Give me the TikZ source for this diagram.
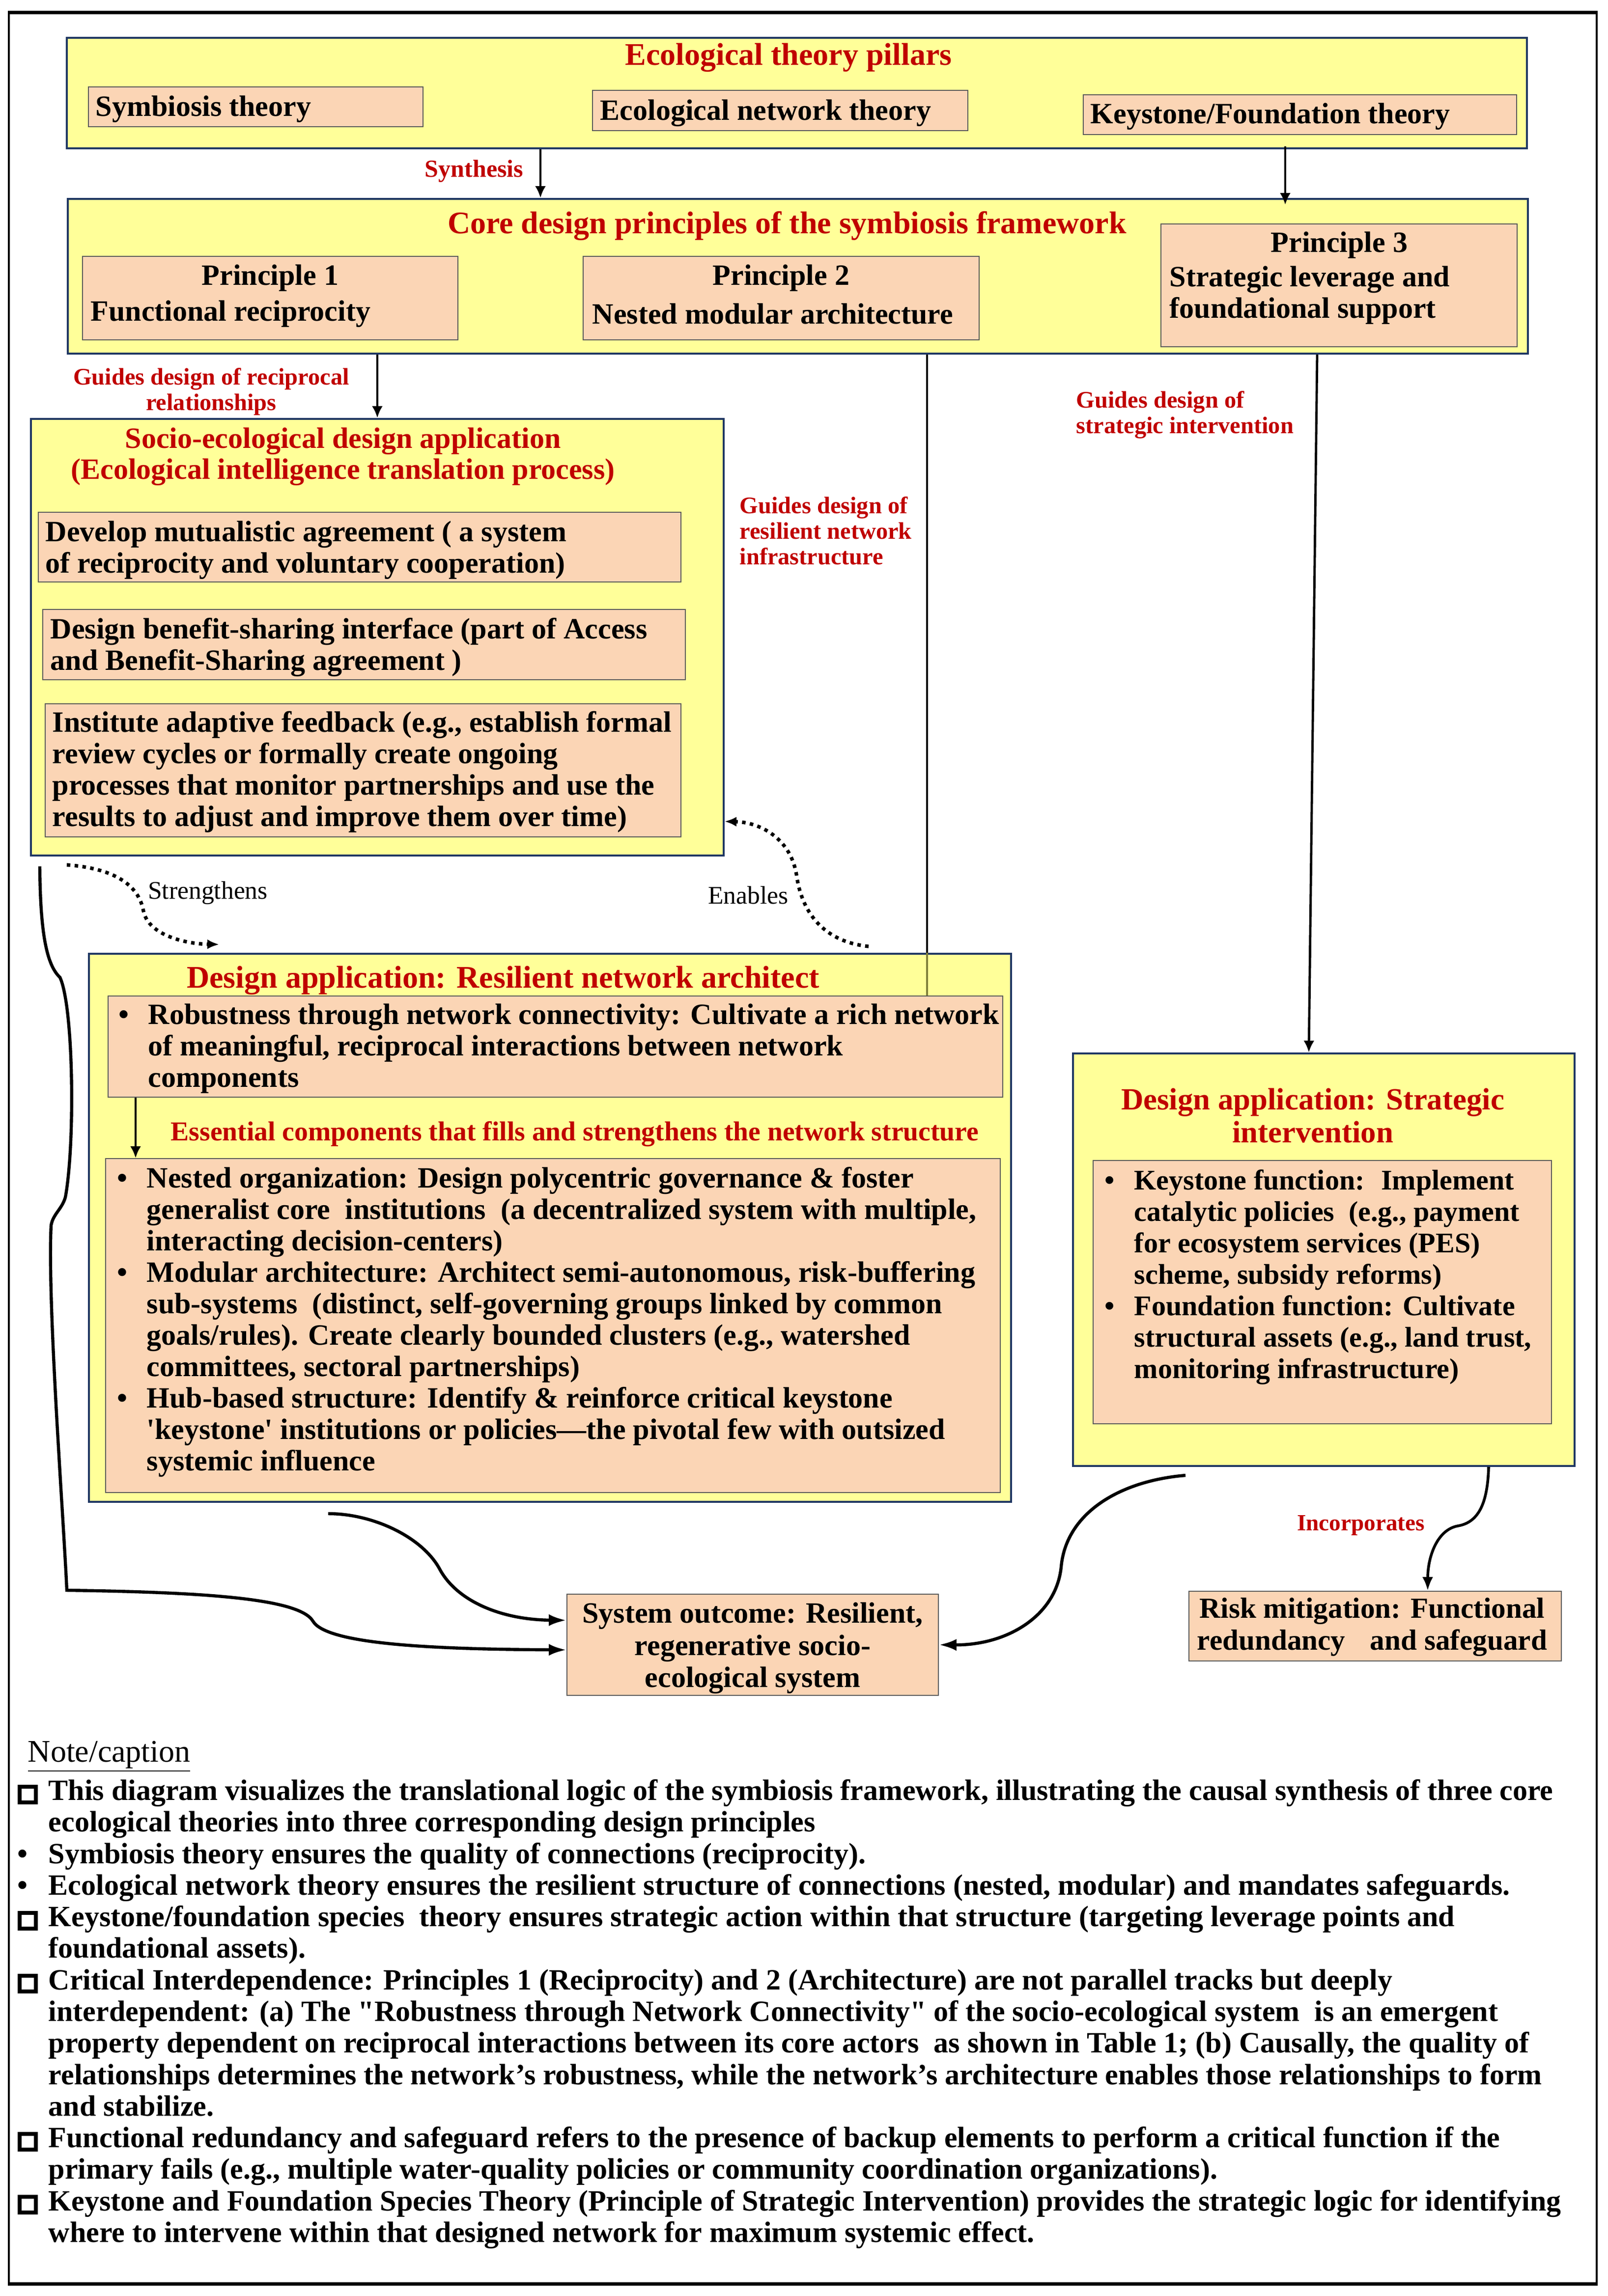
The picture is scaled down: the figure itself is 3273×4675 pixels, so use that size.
\documentclass[tikz,border=0pt]{standalone}
\usepackage{fontspec}
\setmainfont{Liberation Serif}
\usetikzlibrary{arrows.meta,fit,calc}
\newlength\px \setlength\px{0.25pt}
\definecolor{yel}{HTML}{FFFF99}
\definecolor{peach}{HTML}{FBD5B5}
\definecolor{navy}{HTML}{1F3763}
\definecolor{redt}{HTML}{C00000}
\definecolor{oliveline}{HTML}{7F7F3A}
\newcommand\bodyf{\bfseries\fontsize{15}{16}\selectfont}
\newcommand\titf{\bfseries\fontsize{16}{16}\selectfont}
\newcommand\ctitf{\bfseries\fontsize{15}{15.75}\selectfont}
\newcommand\etitf{\bfseries\fontsize{15.7}{16.75}\selectfont}
\newcommand\labf{\bfseries\fontsize{12.1}{13}\selectfont}
\newcommand\synf{\bfseries\fontsize{12.5}{13}\selectfont}
\newcommand\incf{\bfseries\fontsize{11.8}{13}\selectfont}
\newcommand\essf{\bfseries\fontsize{13.9}{14}\selectfont}
\newcommand\smf{\fontsize{12.9}{13}\selectfont}
\newcommand\ef{\bfseries\fontsize{14.5}{16}\selectfont}
\newcommand\notef{\bfseries\fontsize{15}{16.07}\selectfont}
\newcommand\capf{\fontsize{16}{16}\selectfont}
\newcommand\bul{\makebox[60\px][l]{\textbullet}}
\newcommand\ind{\makebox[60\px]{}}
\newcommand\nbul{\makebox[63\px][l]{\textbullet}}
\newcommand\nind{\makebox[63\px]{}}
\newcommand\sqm{\makebox[63\px][l]{\setlength\fboxsep{0pt}\setlength\fboxrule{8\px}\fbox{\rule{0pt}{24\px}\rule{25\px}{0pt}}}}
\tikzset{
 bigbox/.style={draw=navy, line width=1pt, fill=yel, inner sep=0pt},
 pbox/.style={draw=black!65, line width=0.45pt, fill=peach, inner sep=0pt},
 txt/.style={inner sep=0pt, font=\bodyf, align=left},
 ctxt/.style={inner sep=0pt, font=\bodyf, align=center},
 ttl/.style={inner sep=0pt, font=\titf, text=redt, align=center},
 lab/.style={inner sep=0pt, font=\labf, text=redt, align=left},
 clab/.style={inner sep=0pt, font=\labf, text=redt, align=center},
 blab/.style={inner sep=0pt, font=\smf, text=black},
 conn/.style={line width=1.2pt, -{Latex[length=6pt,width=5.5pt]}},
 plainline/.style={line width=1.2pt},
 curv/.style={line width=1.6pt, -{Latex[length=9pt,width=6pt]}},
 dotarrow/.style={line width=1.8pt, dash pattern=on 1.8pt off 2.2pt, -{Latex[length=6pt,width=5pt]}},
}
\begin{document}
\begin{tikzpicture}[x=0.25pt,y=-0.25pt]
\useasboundingbox (0,0) rectangle (3273,4675);
\fill[white] (0,0) rectangle (3273,4675);
% outer frame
\draw[line width=1pt] (18,26) rectangle (3250,4650);
\draw[line width=1.75pt] (16,26) -- (3252,26);
\draw[line width=1.75pt] (16,4650) -- (3252,4650);

% ---------- A: theory pillars
\node[bigbox, fit={(136,77) (3108,302)}] (A) {};
\node[ttl] (At) at (1605,117) {Ecological theory pillars};
\node[pbox, fit={(180,177) (861,258)}] (A1) {};
\node[txt, anchor=west] (A1t) at (194,222) {Symbiosis theory};
\node[pbox, fit={(1206,184) (1970,266)}] (A2) {};
\node[txt, anchor=west] (A2t) at (1221,230) {Ecological network theory};
\node[pbox, fit={(2205,193) (3087,274)}] (A3) {};
\node[txt, anchor=west] (A3t) at (2219,237) {Keystone/Foundation theory};

% ---------- B: principles
\node[bigbox, fit={(138,405) (3110,720)}] (B) {};
\node[ttl] (Bt) at (1602,460) {Core design principles of the symbiosis framework};
\node[pbox, fit={(168,522) (932,692)}] (P1) {};
\node[ctxt] (P1a) at (550,566) {Principle 1};
\node[txt, anchor=west] (P1b) at (184,639) {Functional reciprocity};
\node[pbox, fit={(1187,522) (1993,692)}] (P2) {};
\node[ctxt] (P2a) at (1590,566) {Principle 2};
\node[txt, anchor=west] (P2b) at (1205,639) {Nested modular architecture};
\node[pbox, fit={(2363,456) (3088,706)}] (P3) {};
\node[ctxt] (P3a) at (2726,499) {Principle 3};
\node[txt, anchor=west] (P3b) at (2380,601) {Strategic leverage and\\foundational support};

% ---------- C: socio-ecological design application
\node[bigbox, fit={(63,853) (1473,1742)}] (C) {};
\node[ttl, font=\ctitf] (Ct) at (698,930) {Socio-ecological design application\\(Ecological intelligence translation process)};
\node[pbox, fit={(78,1043) (1386,1185)}] (C1) {};
\node[txt, anchor=west] (C1t) at (92,1120) {Develop mutualistic agreement ( a system\\of reciprocity and voluntary cooperation)};
\node[pbox, fit={(87,1241) (1395,1384)}] (C2) {};
\node[txt, anchor=west] (C2t) at (102,1318) {Design benefit-sharing interface (part of Access\\and Benefit-Sharing agreement )};
\node[pbox, fit={(92,1433) (1386,1704)}] (C3) {};
\node[txt, anchor=west] (C3t) at (106,1572) {Institute adaptive feedback (e.g., establish formal\\review cycles or formally create ongoing\\processes that monitor partnerships and use the\\results to adjust and improve them over time)};

% ---------- D: resilient network architect
\node[bigbox, fit={(181,1942) (2058,3058)}] (D) {};
\node[ttl] (Dt) at (1024,1996) {Design application: Resilient network architect};
\node[pbox, fit={(220,2028) (2041,2234)}] (D1) {};
\node[txt, anchor=west] (D1t) at (241,2135) {\bul Robustness through network connectivity: Cultivate a rich network\\\ind of meaningful, reciprocal interactions between network\\\ind components};
\node[inner sep=0pt, font=\essf, text=redt] (Dl) at (1170,2309) {Essential components that fills and strengthens the network structure};
\node[pbox, fit={(215,2359) (2036,3039)}] (D2) {};
\node[txt, anchor=west] (D2t) at (238,2692) {\bul Nested organization: Design polycentric governance \& foster\\\ind generalist core~ institutions~ (a decentralized system with multiple,\\\ind interacting decision-centers)\\\bul Modular architecture: Architect semi-autonomous, risk-buffering\\\ind sub-systems~ (distinct, self-governing groups linked by common\\\ind goals/rules). Create clearly bounded clusters (e.g., watershed\\\ind committees, sectoral partnerships)\\\bul Hub-based structure: Identify \& reinforce critical keystone\\\ind \textquotesingle keystone\textquotesingle{} institutions or policies---the pivotal few with outsized\\\ind systemic influence};

% ---------- E: strategic intervention
\node[bigbox, fit={(2184,2145) (3205,2985)}] (E) {};
\node[ttl, font=\etitf] (Et) at (2672,2271) {Design application: Strategic\\intervention};
\node[pbox, fit={(2225,2363) (3158,2899)}] (E1) {};
\node[txt, font=\ef, anchor=west] (E1t) at (2248,2600) {\bul Keystone function:~ Implement\\\ind catalytic policies~ (e.g., payment\\\ind for ecosystem services (PES)\\\ind scheme, subsidy reforms)\\\bul Foundation function: Cultivate\\\ind structural assets (e.g., land trust,\\\ind monitoring infrastructure)};

% ---------- F and G
\node[pbox, fit={(2420,3240) (3178,3382)}] (F) {};
\node[ctxt, font=\bfseries\fontsize{14.8}{16.25}\selectfont] (Ft) at (2793,3313) {Risk mitigation: Functional\\redundancy\hspace{0.6em} and safeguard};
\node[pbox, fit={(1154,3246) (1910,3452)}] (G) {};
\node[ctxt, font=\bfseries\fontsize{15}{16.4}\selectfont] (Gt) at (1532,3356) {System outcome: Resilient,\\regenerative socio-\\ecological system};

% ---------- labels
\node[clab, font=\synf] (Lsyn) at (965,349) {Synthesis};
\node[clab] (Lrec) at (430,798) {Guides design of reciprocal\\relationships};
\node[lab, anchor=west] (Lres) at (1505,1081) {Guides design of\\resilient network\\infrastructure};
\node[lab, anchor=west] (Lstr) at (2190,845) {Guides design of\\strategic intervention};
\node[blab] (Lstg) at (423,1818) {Strengthens};
\node[blab] (Lena) at (1523,1823) {Enables};
\node[clab, font=\incf] (Linc) at (2770,3106) {Incorporates};

% ---------- straight connectors
\coordinate (s1) at (1100,0);
\draw[conn] (s1 |- A.south) -- (s1 |- B.north);
\coordinate (s2) at (2616,0);
\draw[conn] ($(s2 |- A.south)+(0,-6)$) -- ($(s2 |- B.north)+(0,14)$);
\coordinate (s3) at (768,0);
\draw[conn] (s3 |- B.south) -- (s3 |- C.north);
\coordinate (s4) at (1887,0);
\draw[plainline] (s4 |- B.south) -- (s4 |- D.north);
\draw[plainline, draw=oliveline] (s4 |- D.north) -- (s4 |- D1.north);
\coordinate (s5) at (2681,0);
\coordinate (s6) at (2664,0);
\draw[conn] (s5 |- B.south) -- (s6 |- E.north);
\coordinate (s7) at (276,0);
\draw[conn] (s7 |- D1.south) -- (s7 |- D2.north);

% ---------- curved connectors
\coordinate (ef0) at (3030,0);
\coordinate (ef1) at (2906,0);
\draw[line width=1.4pt, -{Latex[length=7pt,width=5.5pt]}] (ef0 |- E.south) .. controls (3028,3060) and (3010,3100) .. (2967,3107) .. controls (2925,3115) and (2906,3170) .. (ef1 |- F.north);
\coordinate (eg0) at (2413,3004);
\draw[curv] (eg0) .. controls (2280,3015) and (2170,3080) .. (2160,3190) .. controls (2150,3290) and (2050,3350) .. (G.east);
\coordinate (dg0) at (668,3082);
\coordinate (dg1) at ($(G.north west)!0.26!(G.south west)$);
\draw[curv] (dg0) .. controls (760,3082) and (860,3130) .. (895,3195) .. controls (930,3260) and (1020,3298) .. (dg1);
\coordinate (br0) at (81,1764);
\coordinate (br1) at ($(G.north west)!0.55!(G.south west)$);
\draw[curv] (br0) .. controls (82,1900) and (95,1965) .. (122,1990) .. controls (150,2050) and (153,2330) .. (133,2438) .. controls (126,2462) and (108,2472) .. (104,2495) .. controls (96,2650) and (130,3100) .. (136,3238) .. controls (420,3242) and (610,3255) .. (637,3301) .. controls (665,3348) and (880,3358) .. (br1);

% ---------- dotted connectors
\coordinate (st0) at (136,1761);
\coordinate (st1) at (446,1923);
\draw[dotarrow] (st0) .. controls (230,1768) and (282,1800) .. (292,1855) .. controls (302,1905) and (380,1922) .. (st1);
\coordinate (en0) at (1768,1927);
\coordinate (en1) at ($(C.north east)!0.92!(C.south east)$);
\draw[dotarrow] (en0) .. controls (1680,1918) and (1632,1862) .. (1621,1780) .. controls (1608,1705) and (1545,1674) .. (en1);

% ---------- notes
\node[inner sep=0pt, font=\capf, anchor=base west] (Ncap) at (56,3587) {\underline{Note/caption}};
\node[inner sep=0pt, font=\notef, align=left, anchor=west] (Notes) at (35,4101) {\sqm This diagram visualizes the translational logic of the symbiosis framework, illustrating the causal synthesis of three core\\
\nind ecological theories into three corresponding design principles\\
\nbul Symbiosis theory ensures the quality of connections (reciprocity).\\
\nbul Ecological network theory ensures the resilient structure of connections (nested, modular) and mandates safeguards.\\
\sqm Keystone/foundation species~ theory ensures strategic action within that structure (targeting leverage points and\\
\nind foundational assets).\\
\sqm Critical Interdependence: Principles 1 (Reciprocity) and 2 (Architecture) are not parallel tracks but deeply\\
\nind interdependent: (a) The \textquotedbl Robustness through Network Connectivity\textquotedbl{} of the socio-ecological system~ is an emergent\\
\nind property dependent on reciprocal interactions between its core actors~ as shown in Table 1; (b) Causally, the quality of\\
\nind relationships determines the network's robustness, while the network's architecture enables those relationships to form\\
\nind and stabilize.\\
\sqm Functional redundancy and safeguard refers to the presence of backup elements to perform a critical function if the\\
\nind primary fails (e.g., multiple water-quality policies or community coordination organizations).\\
\sqm Keystone and Foundation Species Theory (Principle of Strategic Intervention) provides the strategic logic for identifying\\
\nind where to intervene within that designed network for maximum systemic effect.};
\end{tikzpicture}
\end{document}
